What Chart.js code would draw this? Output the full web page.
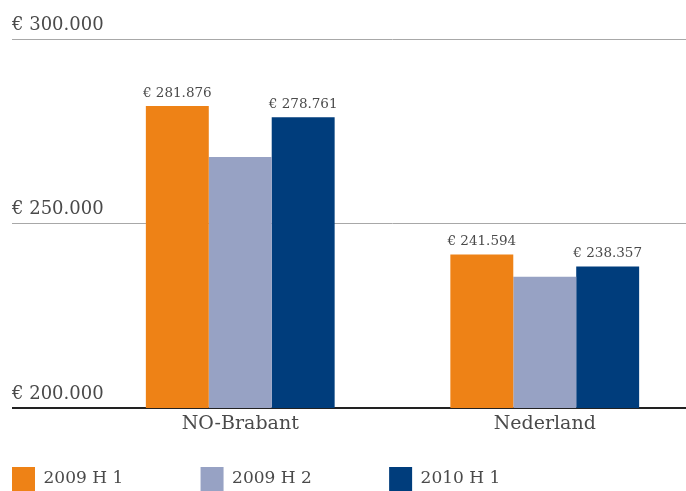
<!DOCTYPE html>
<html lang="nl">
<head>
  <meta charset="UTF-8" />
  <title>Gemiddelde woningprijs</title>
  <script src="https://cdn.jsdelivr.net/npm/chart.js"></script>
  <style>
    body {
      margin: 0;
      padding: 0;
      background: #fff;
      overflow: hidden;
    }
    .chart-wrap {
      position: relative;
      width: 697px;
      height: 491px;
    }
  </style>
</head>
<body>
  <div class="chart-wrap">
    <canvas id="priceChart"></canvas>
  </div>

  <script>
    const regions = ['NO-Brabant', 'Nederland'];
    const periods = ['2009 H 1', '2009 H 2', '2010 H 1'];
    const h1_2009 = [281876, 241594];
    const h2_2009 = [268000, 235600];
    const h1_2010 = [278761, 238357];
    const yTicks = [200000, 250000, 300000];

    const colors = ['#ee8216', '#97a2c4', '#003d7c'];
    const FONT = 'DejaVu Serif';
    const TEXT = '#4a4a4a';

    function euro(v) {
      return '€ ' + String(v).replace(/\B(?=(\d{3})+(?!\d))/g, '.');
    }

    // values above the orange and dark blue bars
    const barLabels = {
      id: 'barLabels',
      afterDatasetsDraw(chart) {
        const ctx = chart.ctx;
        ctx.save();
        ctx.font = '13.5px "' + FONT + '"';
        ctx.fillStyle = TEXT;
        ctx.textAlign = 'center';
        ctx.textBaseline = 'bottom';
        chart.data.datasets.forEach((ds, i) => {
          if (!ds.showValue) return;
          chart.getDatasetMeta(i).data.forEach((bar, j) => {
            ctx.fillText(euro(ds.data[j]), bar.x, bar.y - 6);
          });
        });
        ctx.restore();
      }
    };

    Chart.defaults.font.family = FONT;
    Chart.defaults.color = TEXT;

    new Chart('priceChart', {
      type: 'bar',
      data: {
        labels: regions,
        datasets: [
          { label: periods[0], data: h1_2009, backgroundColor: colors[0], borderWidth: 0, showValue: true },
          { label: periods[1], data: h2_2009, backgroundColor: colors[1], borderWidth: 0, showValue: false },
          { label: periods[2], data: h1_2010, backgroundColor: colors[2], borderWidth: 0, showValue: true }
        ]
      },
      options: {
        responsive: true,
        maintainAspectRatio: false,
        animation: false,
        layout: { padding: { left: 12, top: 39, right: 0, bottom: -10 } },
        datasets: {
          bar: { categoryPercentage: 0.62, barPercentage: 1 }
        },
        scales: {
          x: {
            grid: { display: false, drawTicks: false },
            border: { display: false },
            ticks: { font: { size: 19 }, color: TEXT, padding: 5 },
            afterFit(scale) { scale.height = 59; }
          },
          y: {
            min: yTicks[0],
            max: yTicks[yTicks.length - 1],
            afterBuildTicks(scale) {
              scale.ticks = yTicks.map(v => ({ value: v }));
            },
            border: { display: false },
            grid: {
              tickLength: 76,
              color: c => c.tick && c.tick.value === yTicks[0] ? '#222' : '#a8a8a8',
              lineWidth: c => c.tick && c.tick.value === yTicks[0] ? 2 : 1
            },
            ticks: {
              font: { size: 18 },
              color: TEXT,
              mirror: true,
              padding: -76,
              labelOffset: -14,
              callback: v => euro(v)
            },
            afterFit(scale) { scale.width = 76; }
          }
        },
        plugins: {
          legend: {
            position: 'bottom',
            align: 'start',
            labels: {
              boxWidth: 23,
              boxHeight: 24,
              padding: 0,
              color: TEXT,
              font: { size: 17 },
              generateLabels(chart) {
                const items = Chart.defaults.plugins.legend.labels.generateLabels(chart);
                const ctx = chart.ctx;
                ctx.save();
                ctx.font = '17px "' + FONT + '"';
                items.forEach(item => {
                  let t = item.text;
                  while (23 + 8.5 + ctx.measureText(t + '\u00a0').width <= 189) t += '\u00a0';
                  while (23 + 8.5 + ctx.measureText(t + '\u200a').width <= 189) t += '\u200a';
                  item.text = t;
                });
                ctx.restore();
                return items;
              }
            }
          },
          tooltip: { enabled: false }
        }
      },
      plugins: [barLabels]
    });
  </script>
</body>
</html>
